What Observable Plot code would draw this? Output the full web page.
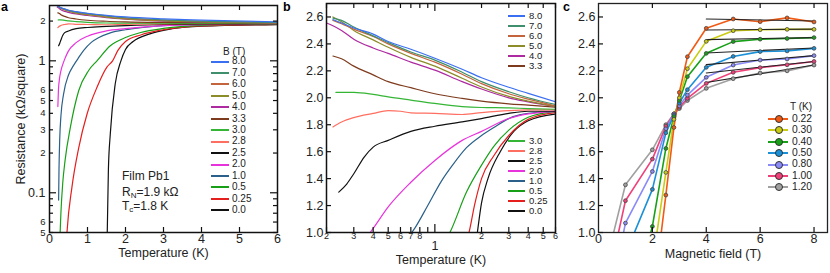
<!DOCTYPE html>
<html><head><meta charset="utf-8">
<script src="https://cdn.jsdelivr.net/npm/d3@7"></script>
<script src="https://cdn.jsdelivr.net/npm/@observablehq/plot@0.6"></script>
<style>
body{margin:0;background:#fff;font-family:"Liberation Sans",Arial,sans-serif;}
#wrap{position:relative;width:830px;height:273px;overflow:hidden;background:#fff;}
#wrap svg{position:absolute;top:0;background:transparent !important;overflow:visible !important;}
.ov{position:absolute;white-space:nowrap;line-height:1;color:#222;}
.seg{position:absolute;height:2px;}
.dotc{position:absolute;width:6px;height:6px;border-radius:50%;border:1px solid #333;}
</style></head><body><div id="wrap"></div>
<script>
// ---------- Panel a / b data: resistance (kOhm/sq) vs temperature (K), per field ----------
const fieldsB = ["8.0","7.0","6.0","5.0","4.0","3.3","3.0","2.8","2.5","2.0","1.0","0.5","0.25","0.0"];
const fieldColors = ["#3b6ff2","#3f8f6c","#c4643c","#8c8c28","#ad2aa0","#7e3a1c","#35b535","#ff6f61","#111111","#e833dc","#2a6089","#17a017","#e51e1e","#111111"];
const r80 = [[0.22,2.58],[0.25,2.555],[0.3,2.518],[0.4,2.473],[0.5,2.418],[0.7,2.36],[1.0,2.294],[1.5,2.212],[2,2.149],[3,2.078],[4,2.033],[6,1.97]];
const r70 = [[0.22,2.592],[0.25,2.575],[0.3,2.525],[0.4,2.46],[0.5,2.41],[0.7,2.34],[1.0,2.28],[1.5,2.19],[2,2.12],[3,2.045],[4,2.0],[6,1.95]];
const r60 = [[0.22,2.575],[0.25,2.55],[0.3,2.51],[0.4,2.455],[0.5,2.40],[0.7,2.33],[1.0,2.265],[1.5,2.175],[2,2.105],[3,2.03],[4,1.99],[6,1.94]];
const r50 = [[0.22,2.60],[0.25,2.565],[0.3,2.50],[0.4,2.43],[0.5,2.375],[0.7,2.30],[1.0,2.235],[1.5,2.145],[2,2.08],[3,2.01],[4,1.975],[6,1.935]];
const r40 = [[0.2,2.555],[0.22,2.535],[0.25,2.5],[0.3,2.435],[0.4,2.37],[0.5,2.33],[0.7,2.265],[1.0,2.205],[1.5,2.12],[2,2.065],[3,2.0],[4,1.97],[6,1.935]];
const r33 = [[0.22,2.31],[0.25,2.29],[0.3,2.235],[0.4,2.17],[0.5,2.12],[0.7,2.075],[1.0,2.03],[1.5,1.995],[2,1.975],[3,1.955],[4,1.945],[6,1.93]];
const r30 = [[0.23,2.04],[0.3,2.04],[0.4,2.025],[0.5,2.007],[0.7,1.983],[1.0,1.958],[1.5,1.935],[2,1.928],[3,1.925],[4,1.92],[6,1.915]];
const r28 = [[0.22,1.784],[0.25,1.82],[0.3,1.853],[0.4,1.884],[0.5,1.905],[0.6,1.9],[0.7,1.888],[1.0,1.884],[1.5,1.876],[2,1.89],[3,1.905],[4,1.91],[6,1.91]];
const r25 = [[0.24,1.30],[0.27,1.36],[0.3,1.436],[0.35,1.56],[0.4,1.634],[0.5,1.684],[0.7,1.751],[1.0,1.789],[1.5,1.821],[2,1.846],[3,1.885],[4,1.9],[6,1.9]];
const r20 = [[0.22,0.45],[0.235,0.6],[0.26,0.72],[0.3,0.84],[0.35,0.94],[0.4,1.03],[0.5,1.19],[0.7,1.373],[1.0,1.535],[1.5,1.684],[2,1.751],[3,1.846],[4,1.88],[6,1.9]];
const r10 = [[0.24,0.088],[0.25,0.15],[0.27,0.26],[0.3,0.38],[0.37,0.56],[0.5,0.78],[0.63,0.92],[0.75,1.04],[0.9,1.2],[1.1,1.38],[1.3,1.5],[1.6,1.63],[2.0,1.72],[2.4,1.78],[3.2,1.86],[4,1.885],[6,1.9]];
const r05 = [[0.27,0.04],[0.28,0.05],[0.3,0.07],[0.35,0.12],[0.41,0.176],[0.55,0.314],[0.77,0.596],[1.03,0.845],[1.25,1.0],[1.6,1.3],[2.0,1.5],[2.4,1.64],[3,1.76],[4,1.855],[6,1.9]];
const r025 = [[0.44,0.04],[0.46,0.05],[0.59,0.11],[0.77,0.22],[0.99,0.397],[1.25,0.63],[1.51,0.895],[1.66,1.0],[1.8,1.2],[2.0,1.40],[2.4,1.57],[3,1.72],[4,1.84],[6,1.89]];
const r00 = [[1.5,0.03],[1.52,0.05],[1.55,0.15],[1.6,0.28],[1.73,0.67],[1.88,1.0],[2.0,1.22],[2.2,1.40],[2.64,1.60],[3.23,1.75],[4,1.83],[6,1.88]];
const curvesRT = [r80,r70,r60,r50,r40,r33,r30,r28,r25,r20,r10,r05,r025,r00];

// ---------- Panel c data: resistance vs magnetic field, per temperature ----------
const tempsK = ["0.22","0.30","0.40","0.50","0.80","1.00","1.20"];
const tempColors = ["#f05a14","#c9cc12","#18a018","#1a90d8","#8a8af8","#f0407a","#a0a0a0"];
const c022 = [[2.0,0.46],[2.5,1.278],[2.8,1.78],[3.0,2.04],[3.3,2.305],[4,2.516],[5,2.585],[6,2.565],[7,2.593],[8,2.563]];
const c030 = [[2.0,0.77],[2.5,1.446],[2.8,1.84],[3.0,2.0],[3.3,2.216],[4,2.419],[5,2.498],[6,2.505],[7,2.508],[8,2.508]];
const c040 = [[1.0,0.3],[2.0,1.045],[2.5,1.624],[2.8,1.86],[3.0,1.98],[3.3,2.157],[4,2.33],[5,2.417],[6,2.435],[7,2.44],[8,2.447]];
const c050 = [[1.0,0.84],[2.0,1.32],[2.5,1.74],[2.8,1.87],[3.0,1.96],[3.3,2.06],[4,2.226],[5,2.307],[6,2.343],[7,2.348],[8,2.367]];
const c080 = [[0.5,0.57],[1.0,1.07],[2.0,1.453],[2.5,1.77],[2.8,1.88],[3.0,1.94],[3.3,2.02],[4,2.152],[5,2.243],[6,2.28],[7,2.288],[8,2.313]];
const c100 = [[0.5,0.78],[1.0,1.236],[2.0,1.545],[2.5,1.79],[2.8,1.88],[3.0,1.93],[3.3,1.995],[4,2.107],[5,2.189],[6,2.224],[7,2.245],[8,2.27]];
const c120 = [[0.5,0.95],[1.0,1.354],[2.0,1.614],[2.5,1.80],[2.8,1.88],[3.0,1.92],[3.3,1.98],[4,2.07],[5,2.142],[6,2.184],[7,2.2],[8,2.243]];
const curvesRB = [c022,c030,c040,c050,c080,c100,c120];
const fitB = [4, 8];
const fitR = [[2.585,2.57],[2.503,2.51],[2.432,2.447],[2.333,2.37],[2.246,2.313],[2.184,2.27],[2.114,2.243]];

// ---------- Tick values ----------
const aXTicks = [0,1,2,3,4,5,6];
const aYMajor = [0.1, 1];
const aYMinor = [0.05,0.06,0.07,0.08,0.09,0.2,0.3,0.4,0.5,0.6,0.7,0.8,0.9,2];
const aYMinorLabels = [[0.05,"5"],[0.06,"6"],[0.2,"2"],[0.3,"3"],[0.4,"4"],[0.5,"5"],[0.6,"6"],[2,"2"]];
const bXMinor = [0.2,0.3,0.4,0.5,0.6,0.7,0.8,0.9,2,3,4,5,6];
const bXMinorLabels = [[0.2,"2"],[0.3,"3"],[0.4,"4"],[0.5,"5"],[0.6,"6"],[0.7,"7"],[0.8,"8"],[2,"2"],[3,"3"],[4,"4"],[5,"5"],[6,"6"]];
const bYTicks = [1.0,1.2,1.4,1.6,1.8,2.0,2.2,2.4,2.6];
const cXTicks = [0,2,4,6,8];
const cYTicks = [1.0,1.2,1.4,1.6,1.8,2.0,2.2,2.4,2.6];

const FONT = '"Liberation Sans", Arial, sans-serif';
const wrap = document.getElementById("wrap");
const HT = 273;
const INK = "#111";

function tb(vals, len, fh, sw=1.2){return Plot.tickX(vals,{x:d=>d,insetTop:fh-len,stroke:INK,strokeWidth:sw});}
function tt(vals, len, fh, sw=1.2){return Plot.tickX(vals,{x:d=>d,insetBottom:fh-len,stroke:INK,strokeWidth:sw});}
function tl(vals, len, fw, sw=1.2){return Plot.tickY(vals,{y:d=>d,insetRight:fw-len,stroke:INK,strokeWidth:sw});}
function tr(vals, len, fw, sw=1.2){return Plot.tickY(vals,{y:d=>d,insetLeft:fw-len,stroke:INK,strokeWidth:sw});}

function place(svg, left){ svg.style.left = left + "px"; wrap.appendChild(svg); }

// ---------- Panel a ----------
{
  const w=280, mL=49, mR=3, mT=5, mB=41, fw=w-mL-mR, fh=HT-mT-mB;
  const marks = [];
  for (let i = curvesRT.length-1; i >= 0; i--) {
    marks.push(Plot.line(curvesRT[i],{x:d=>d[0],y:d=>d[1],stroke:fieldColors[i],strokeWidth:1.2,curve:"monotone-x",clip:true}));
  }
  marks.push(
    Plot.frame({stroke:INK,strokeWidth:1.5}),
    tb([1,2,3,4,5],5,fh), tt([1,2,3,4,5],5,fh),
    tl(aYMajor,7,fw), tr(aYMajor,7,fw), tl(aYMinor,4,fw), tr(aYMinor,4,fw),
    Plot.text(aXTicks,{x:d=>d,text:d=>String(d),frameAnchor:"bottom",dy:10,fontSize:12.5,fill:"#222"}),
    Plot.text(aYMajor,{y:d=>d,text:d=>String(d),frameAnchor:"left",dx:-4,textAnchor:"end",fontSize:12.5,fill:"#222"}),
    Plot.text(aYMinorLabels,{y:d=>d[0],text:d=>d[1],frameAnchor:"left",dx:-4,textAnchor:"end",fontSize:9.5,fill:"#222"}),
    Plot.text(["Temperature (K)"],{text:d=>d,frameAnchor:"bottom",dy:24,fontSize:12.5,fill:"#222"}),
    Plot.text(["Resistance (kΩ/square)"],{text:d=>d,frameAnchor:"left",textAnchor:"middle",dx:-29,rotate:-90,fontSize:12.5,fill:"#222"})
  );
  place(Plot.plot({width:w,height:HT,marginLeft:mL,marginRight:mR,marginTop:mT,marginBottom:mB,
    style:{fontFamily:FONT,background:"transparent"},
    x:{domain:[0,6],axis:null}, y:{type:"log",domain:[0.05,2.625],axis:null}, marks}), 0);
}

// ---------- Panel b ----------
{
  const w=280, mL=46, mR=5, mT=3, mB=41, fw=w-mL-mR, fh=HT-mT-mB;
  const marks = [];
  for (let i = curvesRT.length-1; i >= 0; i--) {
    marks.push(Plot.line(curvesRT[i],{x:d=>d[0],y:d=>d[1],stroke:fieldColors[i],strokeWidth:1.2,curve:"monotone-x",clip:true}));
  }
  marks.push(
    Plot.frame({stroke:INK,strokeWidth:1.5}),
    tb(bXMinor,5,fh), tt(bXMinor,5,fh), tb([1],8,fh), tt([1],8,fh),
    tl(bYTicks,5,fw),
    Plot.text(bXMinorLabels,{x:d=>d[0],text:d=>d[1],frameAnchor:"bottom",dy:6,fontSize:9,fill:"#222"}),
    Plot.text([1],{x:d=>d,text:()=>"1",frameAnchor:"bottom",dy:17,fontSize:12.5,fill:"#222"}),
    Plot.text(bYTicks,{y:d=>d,text:d=>d.toFixed(1),frameAnchor:"left",dx:-3,textAnchor:"end",fontSize:12.5,fill:"#222"}),
    Plot.text(["Temperature (K)"],{text:d=>d,frameAnchor:"bottom",dy:31,fontSize:12.5,fill:"#222"})
  );
  place(Plot.plot({width:w,height:HT,marginLeft:mL,marginRight:mR,marginTop:mT,marginBottom:mB,
    style:{fontFamily:FONT,background:"transparent"},
    x:{type:"log",domain:[0.2,6],axis:null}, y:{domain:[1,2.7],axis:null}, marks}), 280);
}

// ---------- Panel c ----------
{
  const w=270, mL=38, mR=3, mT=3, mB=41, fw=w-mL-mR, fh=HT-mT-mB;
  const marks = [];
  const fitRows = [];
  fitR.forEach((p,i)=>{ fitRows.push({k:i,b:fitB[0],r:p[0]},{k:i,b:fitB[1],r:p[1]}); });
  for (let i = curvesRB.length-1; i >= 0; i--) {
    marks.push(Plot.line(curvesRB[i],{x:d=>d[0],y:d=>d[1],stroke:tempColors[i],strokeWidth:1.6,clip:true}));
  }
  marks.push(Plot.line(fitRows,{x:"b",y:"r",z:"k",stroke:"#222",strokeWidth:1.1}));
  for (let i = curvesRB.length-1; i >= 0; i--) {
    marks.push(Plot.dot(curvesRB[i],{x:d=>d[0],y:d=>d[1],r:1.9,fill:tempColors[i],stroke:"#444",strokeWidth:0.8,clip:true}));
  }
  marks.push(
    Plot.frame({stroke:"#222",strokeWidth:1.3}),
    tb([2,4,6,8],5,fh), tt([2,4,6,8],5,fh),
    tl(cYTicks,5,fw),
    Plot.text(cXTicks,{x:d=>d,text:d=>String(d),frameAnchor:"bottom",dy:10,fontSize:12.5,fill:"#222"}),
    Plot.text(cYTicks,{y:d=>d,text:d=>d.toFixed(1),frameAnchor:"left",dx:-3,textAnchor:"end",fontSize:12.5,fill:"#222"}),
    Plot.text(["Magnetic field (T)"],{text:d=>d,frameAnchor:"bottom",dy:25,fontSize:12.5,fill:"#222"})
  );
  place(Plot.plot({width:w,height:HT,marginLeft:mL,marginRight:mR,marginTop:mT,marginBottom:mB,
    style:{fontFamily:FONT,background:"transparent"},
    x:{domain:[0,8.5],axis:null}, y:{domain:[1,2.7],axis:null}, marks}), 560);
}

// ---------- Overlays: panel letters, annotation, legends ----------
function ov(html, left, top, size, extra=""){
  const d=document.createElement("div"); d.className="ov"; d.innerHTML=html;
  d.style.cssText += `left:${left}px;top:${top}px;font-size:${size}px;${extra}`;
  wrap.appendChild(d); return d;
}
function seg(left, top, width, color){
  const d=document.createElement("div"); d.className="seg";
  d.style.cssText += `left:${left}px;top:${top}px;width:${width}px;background:${color};`;
  wrap.appendChild(d);
}
ov("a",1,1,12.5,"font-weight:bold;color:#000;");
ov("b",283,1,12.5,"font-weight:bold;color:#000;");
ov("c",563,1,12.5,"font-weight:bold;color:#000;");

ov("Film Pb1",122,170,12);
ov("R<sub style='font-size:8px;vertical-align:-2px'>N</sub>=1.9 kΩ",122,185.5,12);
ov("T<sub style='font-size:8px;vertical-align:-2px'>c</sub>=1.8 K",122,200,12);

// legend a
ov("B (T)",223,46.5,10);
fieldsB.forEach((f,i)=>{
  const y = 61.5 + i*11.45;
  seg(211, y-1, 18, fieldColors[i]);
  ov(f, 232, y-5.2, 10);
});
// legend b (two groups)
fieldsB.forEach((f,i)=>{
  const y = i < 6 ? 15.7 + i*10.07 : 140.7 + (i-6)*10;
  seg(508, y-1, 17, fieldColors[i]);
  ov(f, 529, y-5, 9.5);
});
// legend c
ov("T (K)",790,102.3,10);
tempsK.forEach((t,i)=>{
  const y = 119 + i*11.4;
  seg(768, y-1, 20, tempColors[i]);
  const d=document.createElement("div"); d.className="dotc";
  d.style.cssText += `left:${774.5}px;top:${y-4}px;background:${tempColors[i]};`;
  wrap.appendChild(d);
  ov(t, 792, y-5.2, 10.3);
});
</script></body></html>
